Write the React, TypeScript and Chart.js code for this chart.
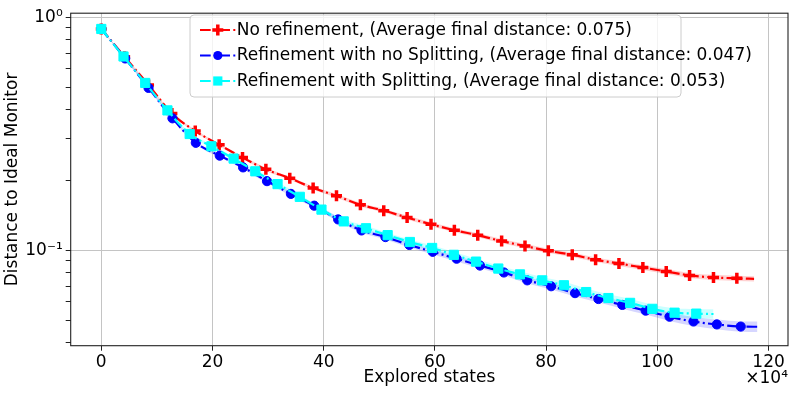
import React, { useEffect, useRef } from 'react';
import { Chart, registerables } from 'chart.js';

Chart.register(...registerables);

// ---- Data (x in units of 10^4 explored states) ----
const redX = [0, 4.2, 8.5, 12.7, 16.9, 21.2, 25.4, 29.6, 33.9, 38.1, 42.3, 46.6, 50.8, 55.0, 59.3, 63.5, 67.7, 72.0, 76.2, 80.4, 84.7, 88.9, 93.1, 97.4, 101.6, 105.8, 110.1, 114.3, 117.4];
const redY = [0.890, 0.676, 0.512, 0.386, 0.3245, 0.2833, 0.2496, 0.2222, 0.2036, 0.1848, 0.1710, 0.1567, 0.1478, 0.1381, 0.1291, 0.1218, 0.1160, 0.1094, 0.1042, 0.0993, 0.0955, 0.0910, 0.0876, 0.0842, 0.0810, 0.0779, 0.0764, 0.0757, 0.0753];
const redSpread = [1.0, 1.008, 1.010, 1.012, 1.013, 1.014, 1.015, 1.016, 1.016, 1.017, 1.018, 1.018, 1.019, 1.019, 1.020, 1.020, 1.021, 1.021, 1.022, 1.022, 1.023, 1.023, 1.024, 1.024, 1.025, 1.025, 1.026, 1.026, 1.026];

const blueX = [0, 4.3, 8.5, 12.8, 17.0, 21.3, 25.5, 29.8, 34.1, 38.3, 42.6, 46.8, 51.1, 55.4, 59.6, 63.9, 68.1, 72.4, 76.6, 80.9, 85.2, 89.4, 93.7, 97.9, 102.2, 106.5, 110.7, 115.0, 118.0];
const blueY = [0.890, 0.665, 0.497, 0.368, 0.2889, 0.2545, 0.2266, 0.1978, 0.1744, 0.1552, 0.1355, 0.1215, 0.1138, 0.1053, 0.0984, 0.0919, 0.0859, 0.0802, 0.0742, 0.0700, 0.0654, 0.0617, 0.0582, 0.0550, 0.0518, 0.0494, 0.0480, 0.0470, 0.0469];
const blueSpread = [1.0, 1.010, 1.012, 1.014, 1.016, 1.017, 1.018, 1.019, 1.020, 1.021, 1.022, 1.023, 1.024, 1.025, 1.026, 1.027, 1.028, 1.030, 1.031, 1.032, 1.034, 1.036, 1.038, 1.040, 1.043, 1.046, 1.049, 1.052, 1.053];

const cyanX = [0, 4.0, 7.9, 11.9, 15.9, 19.8, 23.8, 27.7, 31.7, 35.7, 39.6, 43.6, 47.6, 51.5, 55.5, 59.5, 63.4, 67.4, 71.4, 75.3, 79.3, 83.2, 87.2, 91.2, 95.1, 99.1, 103.1, 107.0, 110.1];
const cyanY = [0.890, 0.678, 0.522, 0.398, 0.3152, 0.2791, 0.2472, 0.2180, 0.1921, 0.1694, 0.1493, 0.1329, 0.1242, 0.1160, 0.1084, 0.1022, 0.0955, 0.0893, 0.0834, 0.0787, 0.0742, 0.0707, 0.0661, 0.0623, 0.0594, 0.0560, 0.0539, 0.0534, 0.0532];
const cyanSpread = [1.0, 1.010, 1.012, 1.014, 1.016, 1.017, 1.018, 1.019, 1.020, 1.021, 1.022, 1.023, 1.024, 1.025, 1.026, 1.027, 1.028, 1.029, 1.030, 1.032, 1.033, 1.035, 1.037, 1.039, 1.041, 1.043, 1.045, 1.047, 1.048];

const xTicks = [0, 20, 40, 60, 80, 100, 120];
const yMajorTicks = [0.1, 1];
const yMinorTicks = [0.04, 0.05, 0.06, 0.07, 0.08, 0.09, 0.2, 0.3, 0.4, 0.5, 0.6, 0.7, 0.8, 0.9];
const yTickLabels: Record<string, string> = { '1': '10\u2070', '0.1': '10\u207B\u00B9' };

const legendLabels = [
  'No refinement, (Average final distance: 0.075)',
  'Refinement with no Splitting, (Average final distance: 0.047)',
  'Refinement with Splitting, (Average final distance: 0.053)',
];
const xTitle = 'Explored states';
const yTitle = 'Distance to Ideal Monitor';
const xOffsetText = '\u00D710\u2074';

const FONT = 'DejaVu Sans';
const FS = 17;
const DASH = [10.7, 3.3, 2, 3.3];

const pts = (xs: number[], ys: number[]) => xs.map((x, i) => ({ x, y: ys[i] }));
const radii = (xs: number[], r: number) => xs.map((_, i) => (i === xs.length - 1 ? 0 : r));

function lineDs(xs: number[], ys: number[], color: string, style: string, r: number, bw: number) {
  return {
    data: pts(xs, ys),
    borderColor: color,
    backgroundColor: color,
    borderWidth: 2.2,
    borderDash: DASH,
    pointStyle: style,
    pointRadius: radii(xs, r),
    pointBorderWidth: bw,
    pointBorderColor: color,
    pointBackgroundColor: color,
    cubicInterpolationMode: 'monotone',
    fill: false,
  };
}
function bandDs(xs: number[], ys: number[], sp: number[], upper: boolean, bg: string) {
  return {
    data: xs.map((x, i) => ({ x, y: upper ? ys[i] * sp[i] : ys[i] / sp[i] })),
    borderWidth: 0,
    borderColor: 'rgba(0,0,0,0)',
    backgroundColor: bg,
    pointRadius: 0,
    cubicInterpolationMode: 'monotone',
    fill: upper ? '-1' : false,
  };
}

function drawMarker(ctx: CanvasRenderingContext2D, kind: string, x: number, y: number, color: string) {
  ctx.save();
  ctx.setLineDash([]);
  ctx.fillStyle = color;
  ctx.strokeStyle = color;
  if (kind === 'plus') {
    ctx.lineWidth = 3.5;
    ctx.beginPath();
    ctx.moveTo(x - 5.5, y); ctx.lineTo(x + 5.5, y);
    ctx.moveTo(x, y - 5.5); ctx.lineTo(x, y + 5.5);
    ctx.stroke();
  } else if (kind === 'circle') {
    ctx.beginPath();
    ctx.arc(x, y, 4.6, 0, Math.PI * 2);
    ctx.fill();
  } else {
    ctx.fillRect(x - 4.6, y - 4.6, 9.2, 9.2);
  }
  ctx.restore();
}

const decorPlugin = {
  id: 'decor',
  afterDatasetsDraw(chart: any) {
    const { ctx, chartArea: a } = chart;
    ctx.save();
    ctx.strokeStyle = '#222';
    ctx.lineWidth = 1.1;
    ctx.setLineDash([]);
    ctx.strokeRect(a.left, a.top, a.right - a.left, a.bottom - a.top);
    ctx.restore();
  },
  afterDraw(chart: any) {
    const { ctx, chartArea: a } = chart;
    ctx.save();
    // legend box
    const lx = 190, ly = 15, lw = 491, lh = 82, rr = 4;
    ctx.beginPath();
    ctx.moveTo(lx + rr, ly);
    ctx.arcTo(lx + lw, ly, lx + lw, ly + lh, rr);
    ctx.arcTo(lx + lw, ly + lh, lx, ly + lh, rr);
    ctx.arcTo(lx, ly + lh, lx, ly, rr);
    ctx.arcTo(lx, ly, lx + lw, ly, rr);
    ctx.closePath();
    ctx.fillStyle = 'rgba(255,255,255,0.8)';
    ctx.fill();
    ctx.strokeStyle = '#cccccc';
    ctx.lineWidth = 1;
    ctx.stroke();
    const items = [
      { c: '#ff0000', m: 'plus' },
      { c: '#0000ff', m: 'circle' },
      { c: '#00ffff', m: 'square' },
    ];
    items.forEach((it, i) => {
      const y = 30 + i * 25.5;
      ctx.save();
      ctx.strokeStyle = it.c;
      ctx.lineWidth = 2.2;
      ctx.setLineDash(DASH);
      ctx.beginPath();
      ctx.moveTo(200, y);
      ctx.lineTo(235.5, y);
      ctx.stroke();
      ctx.restore();
      drawMarker(ctx, it.m, 217.8, y, it.c);
      ctx.fillStyle = '#000';
      ctx.font = `${FS}px "${FONT}"`;
      ctx.textAlign = 'left';
      ctx.textBaseline = 'middle';
      ctx.fillText(legendLabels[i], 236.7, y + 0.5);
    });
    // offset text for x axis
    ctx.fillStyle = '#000';
    ctx.font = `${FS}px "${FONT}"`;
    ctx.textAlign = 'right';
    ctx.textBaseline = 'alphabetic';
    ctx.fillText(xOffsetText, a.right, 382.5);
    ctx.restore();
  },
};

export default function App() {
  const ref = useRef<HTMLCanvasElement>(null);
  useEffect(() => {
    if (!ref.current) return;
    Chart.defaults.font.family = FONT;
    const chart = new Chart(ref.current, {
      type: 'line',
      data: {
        datasets: [
          lineDs(cyanX, cyanY, '#00ffff', 'rect', 6.5, 1),
          lineDs(blueX, blueY, '#0000ff', 'circle', 4.6, 1),
          lineDs(redX, redY, '#ff0000', 'cross', 5.5, 3.5),
          bandDs(redX, redY, redSpread, false, 'rgba(255,0,0,0.18)'),
          bandDs(redX, redY, redSpread, true, 'rgba(255,0,0,0.18)'),
          bandDs(blueX, blueY, blueSpread, false, 'rgba(0,0,255,0.16)'),
          bandDs(blueX, blueY, blueSpread, true, 'rgba(0,0,255,0.16)'),
          bandDs(cyanX, cyanY, cyanSpread, false, 'rgba(0,255,255,0.2)'),
          bandDs(cyanX, cyanY, cyanSpread, true, 'rgba(0,255,255,0.2)'),
        ] as any,
      },
      options: {
        animation: false,
        responsive: false,
        devicePixelRatio: 1,
        layout: { padding: { top: 7, right: 6.3, left: 0, bottom: 0 } },
        plugins: { legend: { display: false }, tooltip: { enabled: false } },
        scales: {
          x: {
            type: 'linear',
            min: -5.5,
            max: 123.5,
            afterBuildTicks: (s: any) => { s.ticks = xTicks.map((v) => ({ value: v })); },
            afterFit: (s: any) => { s.height = 47.3; },
            border: { display: false },
            grid: { color: '#c4c4c4', lineWidth: 1, tickColor: '#222', tickLength: 5, drawTicks: true },
            ticks: { color: '#000', font: { size: FS, family: FONT }, padding: 2, maxRotation: 0, autoSkip: false, callback: (v: any) => String(v) },
            title: { display: true, text: xTitle, color: '#000', font: { size: FS, family: FONT }, padding: { top: 0, bottom: 5 } },
          },
          y: {
            type: 'logarithmic',
            min: 0.0389,
            max: 1.04,
            afterBuildTicks: (s: any) => {
              s.ticks = [...yMinorTicks, ...yMajorTicks].sort((a, b) => a - b).map((v) => ({ value: v, major: yMajorTicks.includes(v) }));
            },
            afterFit: (s: any) => { s.width = 70.7; },
            border: { display: false },
            grid: {
              color: (c: any) => (c.tick && yMajorTicks.includes(c.tick.value) ? '#c4c4c4' : 'rgba(0,0,0,0)'),
              lineWidth: 1,
              tickColor: '#222',
              tickLength: 5,
              drawTicks: true,
            },
            ticks: {
              color: '#000',
              font: { size: FS, family: FONT },
              padding: 3,
              autoSkip: false,
              callback: (v: any) => yTickLabels[String(v)] ?? '',
            },
            title: { display: true, text: yTitle, color: '#000', font: { size: FS, family: FONT }, padding: { top: 2, bottom: 0 } },
          },
        },
      } as any,
      plugins: [decorPlugin],
    });
    return () => chart.destroy();
  }, []);
  return (
    <div style={{ position: 'fixed', left: 0, top: 0, width: 797, height: 393, background: '#fff' }}>
      <canvas ref={ref} width={797} height={393} style={{ display: 'block', width: 797, height: 393 }} />
    </div>
  );
}
